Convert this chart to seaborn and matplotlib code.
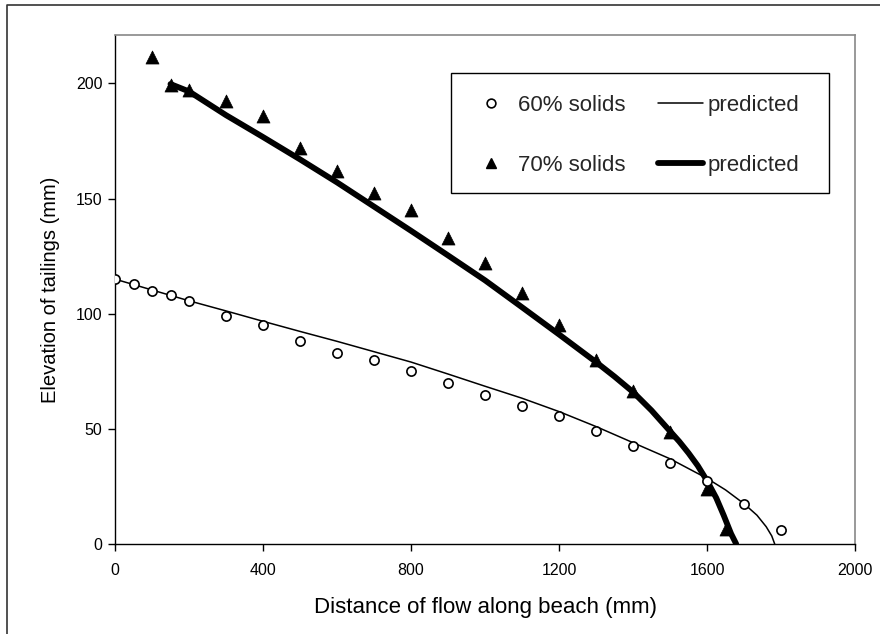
import matplotlib
matplotlib.use("Agg")
import matplotlib.pyplot as plt
from matplotlib.lines import Line2D
from matplotlib.patches import Rectangle
import seaborn as sns

# ---- data ----
x60 = [0, 50, 100, 150, 200, 300, 400, 500, 600, 700, 800, 900, 1000, 1100,
       1200, 1300, 1400, 1500, 1600, 1700, 1800]
y60 = [115, 113, 110, 108, 105.5, 99, 95, 88, 83, 80, 75, 70, 64.5, 60,
       55.5, 49, 42.5, 35, 27.5, 17.5, 6]

x70 = [100, 150, 200, 300, 400, 500, 600, 700, 800, 900, 1000, 1100, 1200,
       1300, 1400, 1500, 1600, 1650]
y70 = [211.5, 199.5, 197, 192.5, 186, 172, 162, 152.5, 145, 133, 122, 109,
       95, 80, 66.5, 48.5, 24, 6.5]

xp60 = [0, 100, 200, 300, 400, 500, 600, 700, 800, 900, 1000, 1100, 1200,
        1300, 1400, 1500, 1600, 1650, 1700, 1735, 1760, 1775, 1783]
yp60 = [115, 110.3, 105.6, 101.2, 96.7, 92.3, 88, 83.5, 79, 73.8, 68.5, 63.3,
        57.5, 51, 44, 37, 28.5, 23.5, 17.5, 12.5, 7.5, 3.5, 0]

xp70 = [150, 200, 300, 400, 500, 600, 700, 800, 900, 1000, 1100, 1200, 1300,
        1350, 1400, 1450, 1500, 1525, 1550, 1575, 1600, 1625, 1645, 1665, 1679]
yp70 = [199.7, 196.5, 186.2, 176.7, 167, 157, 146.5, 136, 125.3, 114.5, 102.8,
        91, 79, 72.7, 66, 58, 49, 44.5, 39.5, 34, 27.5, 20, 12.5, 4.5, 0]

x_ticks = [0, 400, 800, 1200, 1600, 2000]
y_ticks = [0, 50, 100, 150, 200]

label_60 = "60% solids"
label_70 = "70% solids"
label_pred = "predicted"
x_label = "Distance of flow along beach (mm)"
y_label = "Elevation of tailings (mm)"

# ---- style ----
sns.set_theme(style="white")
plt.rcParams['font.family'] = ['Liberation Sans', 'DejaVu Sans']

W, H = 880, 634
fig = plt.figure(figsize=(W / 100, H / 100), dpi=100)
fig.patch.set_facecolor("white")
ax = fig.add_axes([115 / W, 1 - 544 / H, 740 / W, 509 / H])

# predicted curves
sns.lineplot(x=xp60, y=yp60, ax=ax, color="black", linewidth=1.1,
             estimator=None, sort=False, zorder=2)
sns.lineplot(x=xp70, y=yp70, ax=ax, color="black", linewidth=4.2,
             estimator=None, sort=False, zorder=2)

# measured points
sns.scatterplot(x=x70, y=y70, ax=ax, marker="^", s=88, color="black",
                edgecolor="black", linewidth=0.5, zorder=3)
sns.scatterplot(x=x60, y=y60, ax=ax, marker="o", s=44, facecolor="white",
                edgecolor="black", linewidth=1.2, zorder=4)

ax.set_xlim(0, 2000)
ax.set_ylim(0, 221)
ax.set_xticks(x_ticks)
ax.set_yticks(y_ticks)
ax.tick_params(axis="both", direction="out", length=5, width=1, color="black",
               labelsize=11.5, labelcolor="black", bottom=True, left=True)
ax.tick_params(axis="x", pad=9)
ax.tick_params(axis="y", pad=4)

for side in ("left", "bottom"):
    ax.spines[side].set_color("black")
    ax.spines[side].set_linewidth(1.0)
for side in ("top", "right"):
    ax.spines[side].set_color("#888888")
    ax.spines[side].set_linewidth(1.2)

ax.set_xlabel(x_label, fontsize=16, color="black")
ax.set_ylabel(y_label, fontsize=14.5, color="black")
ax.xaxis.set_label_coords(0.5, -0.104)
ax.yaxis.set_label_coords(-0.074, 0.5)

# legend (entries without frame, box drawn separately)
handles = [
    Line2D([], [], marker="o", ls="none", mfc="white", mec="black", ms=6.3, mew=1.2),
    Line2D([], [], marker="^", ls="none", color="black", ms=7.5),
    Line2D([], [], color="black", lw=1.1),
    Line2D([], [], color="black", lw=4.2),
]
labels = [label_60, label_70, label_pred, label_pred]
leg = ax.legend(handles, labels, ncol=2, loc="upper left",
                bbox_to_anchor=(0.454, 0.918), borderaxespad=0,
                frameon=False, fontsize=16, handlelength=2.0,
                handletextpad=0.2, columnspacing=1.5, labelspacing=1.78,
                borderpad=0.8)

# legend box
ax_h = 509.0
box_l, box_r, box_t, box_b = 451, 829, 73, 193
ax.add_patch(Rectangle(((box_l - 115) / 740, (544 - box_b) / ax_h),
                       (box_r - box_l) / 740, (box_b - box_t) / ax_h,
                       transform=ax.transAxes, facecolor="white",
                       edgecolor="black", linewidth=1.0, zorder=5))
leg.set_zorder(6)

# outer border (left and top visible)
fig.add_artist(Line2D([7 / W, 7 / W, 1.0], [0, 1 - 5 / H, 1 - 5 / H],
                      transform=fig.transFigure, color="#333333", lw=1.2))

fig.savefig("out.png", dpi=100)
